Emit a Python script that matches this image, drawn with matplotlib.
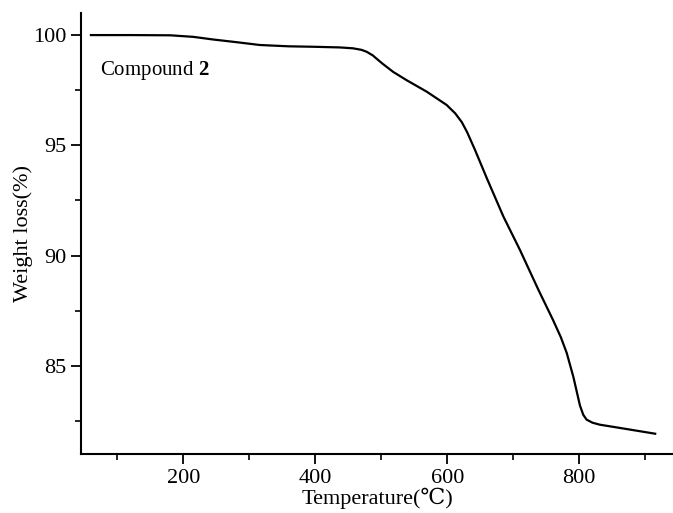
import matplotlib
matplotlib.use("Agg")
import matplotlib.pyplot as plt
from matplotlib.ticker import MultipleLocator

# TGA trace: temperature (C) vs remaining weight (%)
temperature = [60, 120, 180, 215, 245, 280, 316, 360, 397, 437, 457, 470, 478,
               487, 494, 502, 518, 538, 569, 599, 612, 622, 630, 642, 660, 685,
               710, 738, 760, 772, 781, 791, 801, 806, 811, 820, 831, 862, 915]
weight = [100.0, 100.0, 99.99, 99.92, 99.8, 99.68, 99.55, 99.49, 99.47, 99.44,
          99.4, 99.33, 99.24, 99.08, 98.9, 98.7, 98.33, 97.96, 97.43, 96.83,
          96.45, 96.05, 95.6, 94.79, 93.5, 91.77, 90.26, 88.45, 87.09, 86.3,
          85.58, 84.5, 83.2, 82.78, 82.56, 82.42, 82.33, 82.18, 81.92]

plt.rcParams['font.family'] = ['Liberation Serif', 'DejaVu Serif']
plt.rcParams['mathtext.fontset'] = 'custom'
plt.rcParams['mathtext.rm'] = 'Liberation Serif'
plt.rcParams['mathtext.bf'] = 'Liberation Serif:bold'

fig = plt.figure(figsize=(6.73, 5.13), dpi=100)
ax = fig.add_axes([0.1204, 0.115, 0.8796, 0.8596])

ax.plot(temperature, weight, color="black", lw=1.6)

ax.set_xlim(45, 942)
ax.set_ylim(81, 101)
ax.xaxis.set_major_locator(MultipleLocator(200))
ax.xaxis.set_minor_locator(MultipleLocator(100))
ax.yaxis.set_major_locator(MultipleLocator(5))
ax.yaxis.set_minor_locator(MultipleLocator(2.5))

for side in ("top", "right"):
    ax.spines[side].set_visible(False)
for side in ("left", "bottom"):
    ax.spines[side].set_linewidth(1.5)

ax.tick_params(which="major", direction="out", length=7, width=1.3, labelsize=16)
ax.tick_params(which="minor", direction="out", length=4, width=1.2)

ax.set_xlabel("Temperature(\u2103)", fontsize=16, labelpad=0)
ax.set_ylabel("Weight loss(%)", fontsize=16, labelpad=0)

ax.text(0.032, 0.86, r"Compound $\mathbf{2}$", transform=ax.transAxes,
        fontsize=15, va="baseline")

fig.savefig("out.png", dpi=100)
